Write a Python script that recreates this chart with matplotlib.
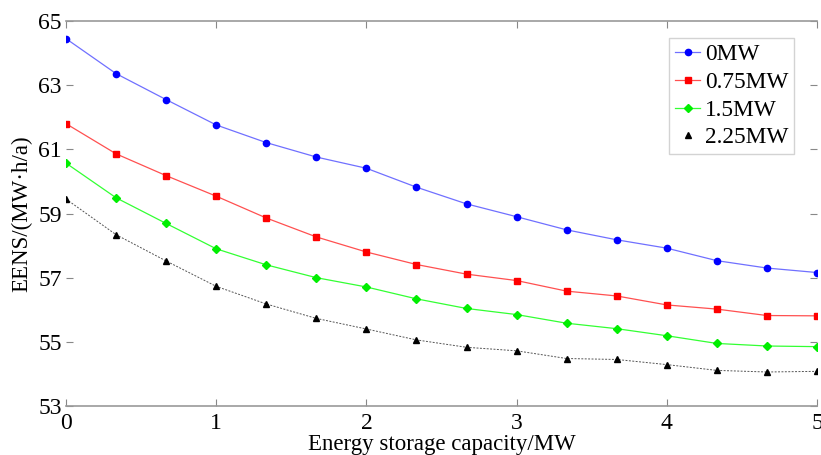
import matplotlib
matplotlib.use("Agg")
import matplotlib.pyplot as plt
import numpy as np

capacity = [0, 1/3, 2/3, 1, 4/3, 5/3, 2, 7/3, 8/3, 3, 10/3, 11/3, 4, 13/3, 14/3, 5]
eens_0 = [64.45, 63.36, 62.55, 61.76, 61.21, 60.76, 60.41, 59.82, 59.30, 58.90, 58.49, 58.18, 57.92, 57.53, 57.30, 57.16]
eens_075 = [61.80, 60.86, 60.18, 59.54, 58.86, 58.27, 57.80, 57.41, 57.11, 56.91, 56.58, 56.43, 56.15, 56.02, 55.82, 55.81]
eens_15 = [60.57, 59.49, 58.69, 57.90, 57.40, 57.00, 56.71, 56.34, 56.04, 55.85, 55.58, 55.41, 55.19, 54.95, 54.87, 54.85]
eens_225 = [59.45, 58.34, 57.52, 56.73, 56.18, 55.73, 55.40, 55.06, 54.83, 54.72, 54.48, 54.45, 54.29, 54.11, 54.06, 54.08]
labels = ["0MW", "0.75MW", "1.5MW", "2.25MW"]
xticks = [0, 1, 2, 3, 4, 5]
yticks = [53, 55, 57, 59, 61, 63, 65]

plt.rcParams['font.family'] = ['Liberation Serif', 'DejaVu Serif']

fig = plt.figure(figsize=(8.21, 4.55), dpi=100)
ax = fig.add_axes([66/821, 1 - 406/455, (817-66)/821, (406-21)/455])

ax.plot(capacity, eens_0, color='#7070ff', lw=0.9, marker='o', ms=4.5,
        mfc='#0000ff', mec='#0000ff', label=labels[0])
ax.plot(capacity, eens_075, color='#ff5050', lw=0.9, marker='s', ms=4.2,
        mfc='#ff0000', mec='#ff0000', label=labels[1])
ax.plot(capacity, eens_15, color='#33ff33', lw=0.9, marker='D', ms=3.8,
        mfc='#00ee00', mec='#00ee00', label=labels[2])
ax.plot(capacity, eens_225, color='#555555', lw=0.7, ls=(0, (2, 1.5)), marker='^', ms=3.8,
        mfc='black', mec='black', label=labels[3])

ax.set_xlim(0, 5)
ax.set_ylim(53, 65)
ax.set_xticks(xticks)
ax.set_yticks(yticks)
ax.tick_params(direction='in', length=5, color='#888888', labelsize=17,
               top=True, right=True, pad=3)
ax.tick_params(axis='x', pad=5)
for s in ['left', 'right']:
    ax.spines[s].set_visible(False)
for s in ['top', 'bottom']:
    ax.spines[s].set_color('#999999')
    ax.spines[s].set_linewidth(1.2)

ax.set_xlabel("Energy storage capacity/MW", fontsize=16.5, labelpad=0)
ax.set_ylabel("EENS/(MW·h/a)", fontsize=16.5, labelpad=4)

handles, labs = ax.get_legend_handles_labels()
leg = ax.legend(handles, labs, loc='upper right', bbox_to_anchor=(0.97, 0.955), fontsize=16.8,
                frameon=True, fancybox=False, handlelength=1.1, handletextpad=0.2,
                labelspacing=0.27, borderpad=0.25, borderaxespad=0)
leg.get_frame().set_edgecolor('#c8c8c8')
leg.get_frame().set_linewidth(1.0)
leg.legend_handles[3].set_linestyle('none')

fig.savefig("out.png", dpi=100)
